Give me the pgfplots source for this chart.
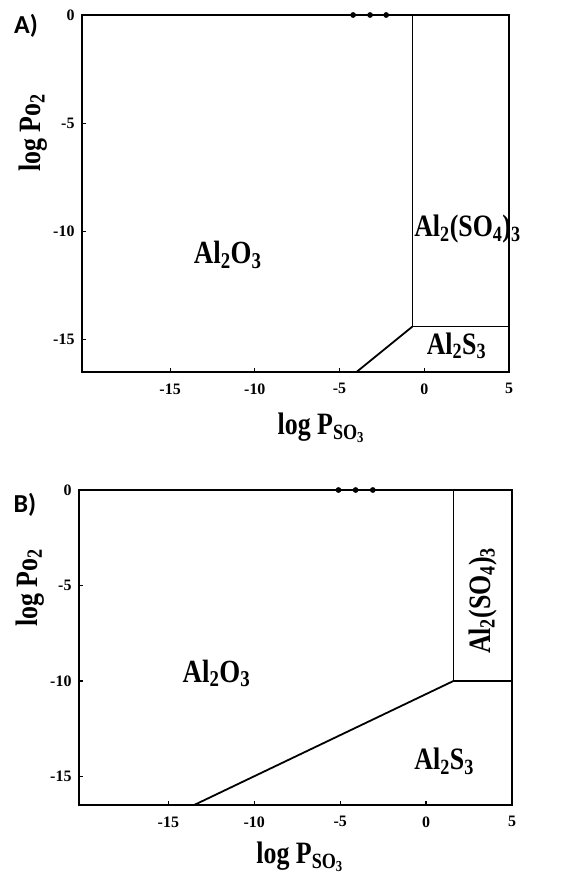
\documentclass[border=0pt]{standalone}
\usepackage{fontspec}
\setmainfont{Liberation Serif}
\newfontfamily\labfont{Carlito}
\usepackage{pgfplots}
\pgfplotsset{compat=1.18}
\newcommand{\tall}[1]{\scalebox{1}[1.2]{#1}}
\pgfplotsset{
  phase/.style={
    scale only axis,
    xmin=-20.2, xmax=5, ymin=-16.5, ymax=0,
    xtick={-15,-10,-5,0,5}, ytick={-15,-10,-5,0},
    xticklabels={-15,-10,-5,0,5}, yticklabels={-15,-10,-5,0},
    tick align=inside, major tick length=4bp,
    tick pos=left,
    axis line style={line width=1.8bp},
    every tick/.style={line width=1.2bp, black},
    tick label style={font=\fontsize{16}{16}\selectfont\bfseries},
    xticklabel style={yshift=-8bp},
    yticklabel style={xshift=-4bp},
    label style={font=\fontsize{26}{26}\selectfont\bfseries},
    clip=false,
  },
  ph/.style={black, line width=1.8bp, no marks},
  dots/.style={black, only marks, mark=*, mark size=2.6bp},
}
\begin{document}
\begin{tikzpicture}
\path[use as bounding box] (0,0) rectangle (563bp,-878bp);
\node[font=\fontsize{26}{26}\selectfont\labfont\bfseries] at (26bp,-26bp) {A)};
\node[font=\fontsize{26}{26}\selectfont\labfont\bfseries] at (25bp,-505bp) {B)};
\begin{axis}[phase, at={(82bp,-15bp)}, anchor=north west, width=427bp, height=357bp,
  xlabel={\tall{log P\textsubscript{SO\textsubscript{3}}}},
  ylabel={\tall{log Po\textsubscript{2}}},
  xlabel style={at={(axis description cs:0.56,-0.157)}, anchor=center},
  ylabel style={at={(axis description cs:-0.115,0.67)}, anchor=center},
]
\addplot[ph] coordinates {(-0.7,0) (-0.7,-14.4) (5,-14.4)};
\addplot[ph] coordinates {(-4.0,-16.5) (-0.7,-14.4)};
\addplot[dots] coordinates {(-4.2,0) (-3.2,0) (-2.25,0)};
\node[font=\fontsize{27}{27}\selectfont\bfseries] at (axis cs:-11.6,-11.1) {\tall{Al\textsubscript{2}O\textsubscript{3}}};
\node[font=\fontsize{26}{26}\selectfont\bfseries] at (axis cs:2.55,-9.9) {\tall{Al\textsubscript{2}(SO\textsubscript{4})\textsubscript{3}}};
\node[font=\fontsize{26}{26}\selectfont\bfseries] at (axis cs:1.9,-15.3) {\tall{Al\textsubscript{2}S\textsubscript{3}}};
\end{axis}
\begin{axis}[phase, at={(79bp,-490bp)}, anchor=north west, width=433bp, height=315bp,
  xlabel={\tall{log P\textsubscript{SO\textsubscript{3}}}},
  ylabel={\tall{log Po\textsubscript{2}}},
  xlabel style={at={(axis description cs:0.51,-0.165)}, anchor=center},
  ylabel style={at={(axis description cs:-0.113,0.69)}, anchor=center},
]
\addplot[ph] coordinates {(1.6,0) (1.6,-10) (5,-10)};
\addplot[ph] coordinates {(-13.5,-16.5) (1.6,-10)};
\addplot[dots] coordinates {(-5.1,0) (-4.1,0) (-3.1,0)};
\node[font=\fontsize{27}{27}\selectfont\bfseries] at (axis cs:-12.2,-9.6) {\tall{Al\textsubscript{2}O\textsubscript{3}}};
\node[font=\fontsize{26}{26}\selectfont\bfseries, rotate=90] at (axis cs:3.3,-5.8) {\tall{Al\textsubscript{2}(SO\textsubscript{4})\textsubscript{3}}};
\node[font=\fontsize{26}{26}\selectfont\bfseries] at (axis cs:1.05,-14.2) {\tall{Al\textsubscript{2}S\textsubscript{3}}};
\end{axis}
\end{tikzpicture}
\end{document}
